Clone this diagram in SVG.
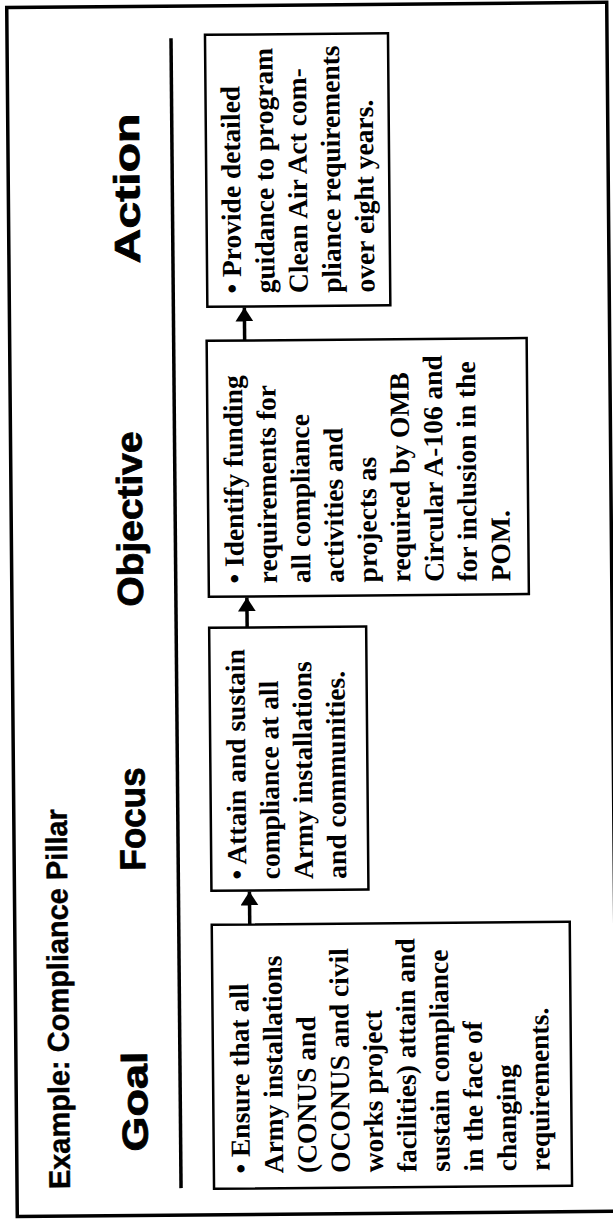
<svg xmlns="http://www.w3.org/2000/svg" width="613" height="1221" viewBox="0 0 613 1221">
<style>
.frame{fill:none;stroke:#000;stroke-width:3.5}
.sep{stroke:#000;stroke-width:3.5}
.box{fill:#fff;stroke:#000;stroke-width:2.5}
.title{font-family:"Liberation Sans",Arial,sans-serif;font-weight:bold;font-size:30px;fill:#000;stroke:#000;stroke-width:0.4}
.head{font-family:"Liberation Sans",Arial,sans-serif;font-weight:bold;font-size:36px;fill:#000;stroke:#000;stroke-width:0.8}
.body{font-family:"Liberation Serif","Times New Roman",serif;font-weight:bold;font-size:27.5px;fill:#000}
.stem{stroke:#000;stroke-width:3.5}
</style>
<defs>
<marker id="ah" viewBox="0 0 14 18" refX="14" refY="9" markerWidth="14" markerHeight="18" markerUnits="userSpaceOnUse" orient="auto">
<path d="M0,0 L14,9 L0,18 Z" fill="#000"/>
</marker>
</defs>
<rect width="613" height="1221" fill="#fff"/>
<g transform="rotate(-0.5 306 610)">
<rect class="frame" x="12" y="5" width="600" height="1209"/>
<line class="sep" x1="176" y1="37" x2="176" y2="1187"/>
<text class="title" transform="translate(65,1187) rotate(-90)" textLength="380" lengthAdjust="spacingAndGlyphs">Example: Compliance Pillar</text>

<g id="col-goal">
<text class="head" transform="translate(143,1150) rotate(-90)" textLength="100" lengthAdjust="spacingAndGlyphs">Goal</text>
<rect class="box" x="209" y="924" width="358" height="264"/>
<text class="body" transform="translate(245,1173) rotate(-90)">
<tspan x="0" y="0">• Ensure that all</tspan>
<tspan x="0" y="33.3">Army installations</tspan>
<tspan x="0" y="66.6">(CONUS and</tspan>
<tspan x="0" y="99.9">OCONUS and civil</tspan>
<tspan x="0" y="133.2">works project</tspan>
<tspan x="0" y="166.5">facilities) attain and</tspan>
<tspan x="0" y="199.8">sustain compliance</tspan>
<tspan x="0" y="233.1">in the face of</tspan>
<tspan x="0" y="266.4">changing</tspan>
<tspan x="0" y="299.7">requirements.</tspan>
</text>
</g>

<g id="col-focus">
<text class="head" transform="translate(143,869) rotate(-90)" textLength="103" lengthAdjust="spacingAndGlyphs">Focus</text>
<rect class="box" x="209" y="627" width="157" height="263"/>
<text class="body" transform="translate(244,879) rotate(-90)">
<tspan x="0" y="0">• Attain and sustain</tspan>
<tspan x="0" y="33.3">compliance at all</tspan>
<tspan x="0" y="66.6">Army installations</tspan>
<tspan x="0" y="99.9">and communities.</tspan>
</text>
</g>

<g id="col-objective">
<text class="head" transform="translate(143,605) rotate(-90)" textLength="175" lengthAdjust="spacingAndGlyphs">Objective</text>
<rect class="box" x="209" y="340" width="320" height="256"/>
<text class="body" transform="translate(244,583) rotate(-90)">
<tspan x="0" y="0">• Identify funding</tspan>
<tspan x="0" y="33.3">requirements for</tspan>
<tspan x="0" y="66.6">all compliance</tspan>
<tspan x="0" y="99.9">activities and</tspan>
<tspan x="0" y="133.2">projects as</tspan>
<tspan x="0" y="166.5">required by OMB</tspan>
<tspan x="0" y="199.8">Circular A-106 and</tspan>
<tspan x="0" y="233.1">for inclusion in the</tspan>
<tspan x="0" y="266.4">POM.</tspan>
</text>
</g>

<g id="col-action">
<text class="head" transform="translate(143,262) rotate(-90)" textLength="150" lengthAdjust="spacingAndGlyphs">Action</text>
<rect class="box" x="210" y="34" width="183" height="272"/>
<text class="body" transform="translate(244,293) rotate(-90)">
<tspan x="0" y="0">• Provide detailed</tspan>
<tspan x="0" y="33.3">guidance to program</tspan>
<tspan x="0" y="66.6">Clean Air Act com-</tspan>
<tspan x="0" y="99.9">pliance requirements</tspan>
<tspan x="0" y="133.2">over eight years.</tspan>
</text>
</g>

<g id="connectors">
<line class="stem" x1="247" y1="340" x2="247" y2="307" marker-end="url(#ah)"/>
<line class="stem" x1="247" y1="627" x2="247" y2="597" marker-end="url(#ah)"/>
<line class="stem" x1="247" y1="924" x2="247" y2="891" marker-end="url(#ah)"/>
</g>
</g>
</svg>
